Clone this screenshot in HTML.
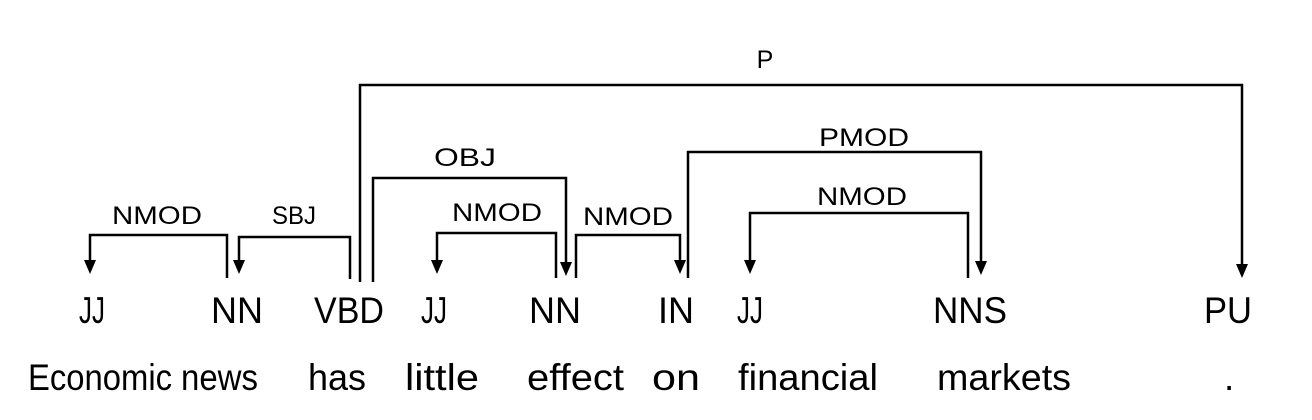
<!DOCTYPE html>
<html><head><meta charset="utf-8"><style>
html,body{margin:0;padding:0;background:#fff;}
svg{display:block;}
text{font-family:"Liberation Sans",sans-serif;fill:#000;}
</style></head><body>
<svg width="1312" height="420" viewBox="0 0 1312 420" xmlns="http://www.w3.org/2000/svg">
<g fill="none" stroke="#000" stroke-width="2.5">
<polyline points="360,282 360,85 1242,85 1242,266"/>
<polyline points="373,282 373,178 566,178 566,264"/>
<polyline points="556,278 556,233 437,233 437,262"/>
<polyline points="576,278 576,235 680,235 680,262"/>
<polyline points="688,278 688,152 981,152 981,263"/>
<polyline points="968,278 968,213 750,213 750,262"/>
<polyline points="227,278 227,235 90,235 90,262"/>
<polyline points="350,279 350,237 239,237 239,262"/>
</g>
<g fill="#000">
<path d="M1236,264 L1248,264 L1242,278 Z"/>
<path d="M560,262 L572,262 L566,276 Z"/>
<path d="M431,260 L443,260 L437,274 Z"/>
<path d="M674,260 L686,260 L680,274 Z"/>
<path d="M975,261 L987,261 L981,275 Z"/>
<path d="M744,260 L756,260 L750,274 Z"/>
<path d="M84,260 L96,260 L90,274 Z"/>
<path d="M233,260 L245,260 L239,274 Z"/>
</g>
<g font-size="25" text-anchor="middle">
<text x="765" y="68">P</text>
<text x="465" y="166" textLength="62" lengthAdjust="spacingAndGlyphs">OBJ</text>
<text x="497" y="221" textLength="90" lengthAdjust="spacingAndGlyphs">NMOD</text>
<text x="628" y="225" textLength="90" lengthAdjust="spacingAndGlyphs">NMOD</text>
<text x="864" y="146" textLength="90" lengthAdjust="spacingAndGlyphs">PMOD</text>
<text x="862" y="205" textLength="90" lengthAdjust="spacingAndGlyphs">NMOD</text>
<text x="157" y="224" textLength="90" lengthAdjust="spacingAndGlyphs">NMOD</text>
<text x="294" y="224" textLength="44" lengthAdjust="spacingAndGlyphs">SBJ</text>
</g>
<g font-size="37" text-anchor="middle">
<text x="92" y="323" textLength="26" lengthAdjust="spacingAndGlyphs">JJ</text>
<text x="237" y="323" textLength="52" lengthAdjust="spacingAndGlyphs">NN</text>
<text x="349" y="323" textLength="70" lengthAdjust="spacingAndGlyphs">VBD</text>
<text x="434" y="323" textLength="26" lengthAdjust="spacingAndGlyphs">JJ</text>
<text x="555" y="323" textLength="52" lengthAdjust="spacingAndGlyphs">NN</text>
<text x="676" y="323" textLength="36" lengthAdjust="spacingAndGlyphs">IN</text>
<text x="750" y="323" textLength="26" lengthAdjust="spacingAndGlyphs">JJ</text>
<text x="970" y="323" textLength="74" lengthAdjust="spacingAndGlyphs">NNS</text>
<text x="1228" y="323" textLength="48" lengthAdjust="spacingAndGlyphs">PU</text>
</g>
<g font-size="37">
<text x="28" y="390" textLength="144" lengthAdjust="spacingAndGlyphs">Economic</text>
<text x="181" y="390" textLength="77" lengthAdjust="spacingAndGlyphs">news</text>
<text x="308" y="390" textLength="58" lengthAdjust="spacingAndGlyphs">has</text>
<text x="405" y="390" textLength="74" lengthAdjust="spacingAndGlyphs">little</text>
<text x="527" y="390" textLength="97" lengthAdjust="spacingAndGlyphs">effect</text>
<text x="652" y="390" textLength="48" lengthAdjust="spacingAndGlyphs">on</text>
<text x="738" y="390" textLength="140" lengthAdjust="spacingAndGlyphs">financial</text>
<text x="937" y="390" textLength="134" lengthAdjust="spacingAndGlyphs">markets</text>
<text x="1224" y="390">.</text>
</g>
</svg>
</body></html>
